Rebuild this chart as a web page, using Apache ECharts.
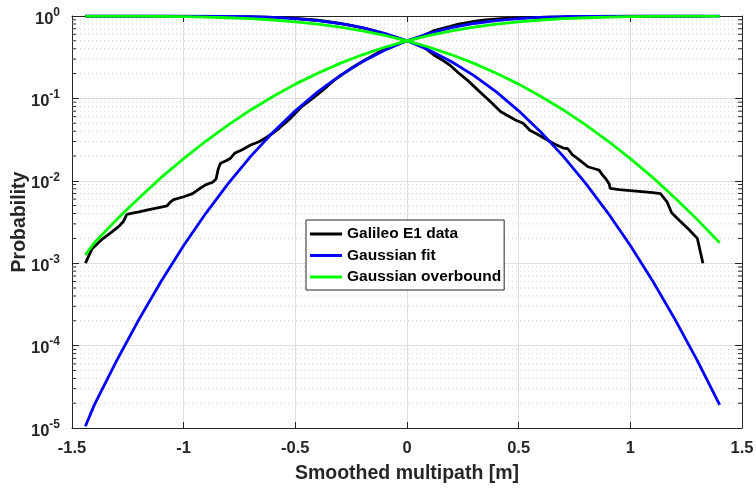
<!DOCTYPE html>
<html>
<head>
<meta charset="utf-8">
<script src="https://cdn.jsdelivr.net/npm/echarts@6/dist/echarts.min.js"></script>
<style>
  html, body { margin: 0; padding: 0; background: #fff; }
  #chart { width: 756px; height: 489px; }
</style>
</head>
<body>
<div id="chart"></div>
<script>
// x grid for the two Gaussian curves
var xFit = [-1.44, -1.4, -1.3, -1.2, -1.1, -1.0, -0.9, -0.8, -0.7, -0.6, -0.5, -0.4, -0.3, -0.2, -0.1, 0,
            0.1, 0.2, 0.3, 0.4, 0.5, 0.6, 0.7, 0.8, 0.9, 1.0, 1.1, 1.2, 1.3, 1.4];

// Gaussian fit (blue), rising and falling branch
var fitLow = [1.05e-5, 1.91e-5, 6.57e-5, 2.08e-4, 6.08e-4, 1.64e-3, 4.06e-3, 9.31e-3, 0.0198, 0.0388,
              0.0707, 0.1198, 0.1888, 0.2782, 0.3843, 0.5,
              0.6157, 0.7218, 0.8112, 0.8802, 0.9293, 0.9612, 0.9802, 0.9907, 0.9959, 0.9984, 0.9994, 0.9998, 0.9999, 1.0];
var fitHigh = [1.0, 1.0, 0.9999, 0.9998, 0.9994, 0.9984, 0.9959, 0.9907, 0.9802, 0.9612,
               0.9293, 0.8802, 0.8112, 0.7218, 0.6157, 0.5,
               0.3843, 0.2782, 0.1888, 0.1198, 0.0707, 0.0388, 0.0198, 9.31e-3, 4.06e-3, 1.64e-3, 6.08e-4, 2.08e-4, 6.57e-5, 1.91e-5];

// Gaussian overbound (green)
var ovbLow = [1.26e-3, 1.77e-3, 3.38e-3, 6.2e-3, 0.011, 0.0186, 0.0304, 0.0478, 0.0724, 0.1056,
              0.149, 0.2024, 0.266, 0.338, 0.4175, 0.5,
              0.5825, 0.662, 0.734, 0.7976, 0.851, 0.8944, 0.9276, 0.9522, 0.9696, 0.9814, 0.989, 0.9938, 0.9966, 0.9982];
var ovbHigh = [0.9987, 0.9982, 0.9966, 0.9938, 0.989, 0.9814, 0.9696, 0.9522, 0.9276, 0.8944,
               0.851, 0.7976, 0.734, 0.662, 0.5825, 0.5,
               0.4175, 0.338, 0.266, 0.2024, 0.149, 0.1056, 0.0724, 0.0478, 0.0304, 0.0186, 0.011, 6.2e-3, 3.38e-3, 1.77e-3];

// Galileo E1 data (black), rising branch
var dataLowX = [-1.44, -1.41, -1.37, -1.33, -1.29, -1.27, -1.255, -1.24, -1.2, -1.15, -1.1, -1.075, -1.06, -1.045,
                -1.0, -0.96, -0.93, -0.9, -0.87, -0.855, -0.845, -0.835, -0.81, -0.79, -0.77, -0.74, -0.7, -0.66,
                -0.63, -0.6, -0.57, -0.55, -0.52, -0.5, -0.47, -0.44, -0.4, -0.37, -0.33, -0.3, -0.25, -0.2,
                -0.15, -0.1, -0.05, 0,
                0.03, 0.06, 0.09, 0.12, 0.16, 0.19, 0.23, 0.27, 0.3, 0.34, 0.38, 0.42, 0.46, 0.49, 0.52, 0.55,
                0.59, 0.63, 0.7, 0.78, 0.86, 0.91, 1.0, 1.135, 1.185, 1.3, 1.325];
var dataLowY = [1.0e-3, 1.5e-3, 1.9e-3, 2.3e-3, 2.8e-3, 3.2e-3, 3.9e-3, 4.0e-3, 4.2e-3, 4.5e-3, 4.8e-3, 4.95e-3, 5.5e-3, 5.9e-3,
                6.4e-3, 7.0e-3, 8.0e-3, 9.0e-3, 9.6e-3, 0.0105, 0.014, 0.0163, 0.0175, 0.0188, 0.0218, 0.0237, 0.0272, 0.03,
                0.0335, 0.038, 0.044, 0.049, 0.058, 0.066, 0.08, 0.092, 0.112, 0.13, 0.163, 0.187, 0.232, 0.28,
                0.335, 0.4, 0.45, 0.5,
                0.53, 0.555, 0.61, 0.664, 0.71, 0.744, 0.795, 0.833, 0.86, 0.889, 0.912, 0.931, 0.94, 0.946, 0.95, 0.959,
                0.964, 0.969, 0.975, 0.983, 0.9865, 0.992, 0.9924, 0.993, 0.996, 0.998, 0.999];

// Galileo E1 data (black), falling branch
var dataHighX = [-1.44, -1.255, -1.06, -0.9, -0.835, -0.77, -0.7, -0.63, -0.57, -0.52, -0.47, -0.4, -0.33, -0.25,
                 -0.2, -0.15, -0.1, -0.05, 0,
                 0.03, 0.06, 0.09, 0.12, 0.16, 0.19, 0.23, 0.27, 0.3, 0.34, 0.38, 0.42, 0.46, 0.49, 0.52, 0.55,
                 0.59, 0.63, 0.66, 0.7, 0.72, 0.74, 0.76, 0.78, 0.81, 0.84, 0.86, 0.875, 0.89, 0.905, 0.91, 0.95,
                 1.0, 1.05, 1.1, 1.135, 1.15, 1.165, 1.185, 1.22, 1.26, 1.3, 1.325];
var dataHighY = [0.999, 0.996, 0.9945, 0.991, 0.984, 0.978, 0.973, 0.9665, 0.956, 0.942, 0.92, 0.888, 0.837, 0.768,
                 0.72, 0.665, 0.6, 0.55, 0.5,
                 0.47, 0.445, 0.39, 0.336, 0.29, 0.256, 0.205, 0.167, 0.14, 0.111, 0.088, 0.069, 0.06, 0.054, 0.05, 0.041,
                 0.036, 0.031, 0.028, 0.025, 0.0245, 0.0208, 0.019, 0.0172, 0.0148, 0.014, 0.0135, 0.0118, 0.0106, 0.0092, 0.0081, 0.0078,
                 0.0076, 0.0074, 0.0072, 0.007, 0.0062, 0.0055, 0.0041, 0.0033, 0.0026, 0.002, 0.001];

var legendNames = ['Galileo E1 data', 'Gaussian fit', 'Gaussian overbound'];

function pairs(xs, ys) {
  var out = [];
  for (var i = 0; i < xs.length; i++) out.push([xs[i], ys[i]]);
  return out;
}

// minor log grid values 2..9 x 10^k
var minorVals = [];
for (var k = -5; k < 0; k++) {
  for (var m = 2; m <= 9; m++) minorVals.push([0, m * Math.pow(10, k)]);
}

var axisColor = '#262626';
var font = 'Liberation Sans, Arial, sans-serif';

var chart = echarts.init(document.getElementById('chart'));

function lineSeries(name, data, color) {
  return {
    name: name, type: 'line', data: data, symbol: 'none', smooth: false,
    lineStyle: { color: color, width: 2.8 }, itemStyle: { color: color },
    silent: true
  };
}

var option = {
  animation: false,
  backgroundColor: '#fff',
  grid: { left: 72, right: 14, top: 16, bottom: 61, containLabel: false, outerBoundsMode: 'none' },
  legend: {
    data: legendNames,
    orient: 'vertical',
    left: 306, top: 220,
    padding: [6, 3, 5, 4],
    icon: 'rect',
    itemGap: 5.5, itemWidth: 32, itemHeight: 3,
    backgroundColor: '#fff',
    borderColor: axisColor, borderWidth: 1,
    textStyle: { fontFamily: font, fontWeight: 'bold', fontSize: 15.5, lineHeight: 15.5, color: '#000', padding: [0, 0, 0, 0] }
  },
  xAxis: [{
    type: 'value', min: -1.5, max: 1.5, interval: 0.5,
    name: 'Smoothed multipath [m]', nameLocation: 'middle', nameGap: 36, nameMoveOverlap: false,
    nameTextStyle: { fontFamily: font, fontWeight: 'bold', fontSize: 19.5, color: axisColor },
    axisLine: { show: true, onZero: false, lineStyle: { color: axisColor, width: 1 } },
    axisTick: { show: true, inside: true, length: 6, lineStyle: { color: axisColor } },
    axisLabel: { fontFamily: font, fontWeight: 'bold', fontSize: 16.5, color: axisColor, margin: 12 },
    splitLine: { show: true, lineStyle: { color: '#dedede', width: 1 } }
  }, {
    type: 'value', min: -1.5, max: 1.5, interval: 0.5, position: 'top',
    axisLine: { show: true, onZero: false, lineStyle: { color: axisColor, width: 1 } },
    axisTick: { show: true, inside: true, length: 6, lineStyle: { color: axisColor } },
    axisLabel: { show: false }, splitLine: { show: false }
  }],
  yAxis: [{
    type: 'log', logBase: 10, min: 1e-5, max: 1,
    name: 'Probability', nameLocation: 'middle', nameGap: 42, nameMoveOverlap: false,
    nameTextStyle: { fontFamily: font, fontWeight: 'bold', fontSize: 19.5, color: axisColor },
    axisLine: { show: true, onZero: false, lineStyle: { color: axisColor, width: 1 } },
    axisTick: { show: true, inside: true, length: 7, lineStyle: { color: axisColor } },
    axisLabel: {
      margin: 12,
      formatter: function (v) {
        var e = Math.round(Math.log(v) / Math.LN10);
        return '{b|10}{s|' + e + '}';
      },
      rich: {
        b: { fontFamily: font, fontWeight: 'bold', fontSize: 16.5, color: axisColor, padding: [6, 0, 0, 0] },
        s: { fontFamily: font, fontWeight: 'bold', fontSize: 12, color: axisColor, padding: [0, 0, 7, 0] }
      }
    },
    splitLine: { show: true, lineStyle: { color: '#dedede', width: 1 } }
  }, {
    type: 'log', logBase: 10, min: 1e-5, max: 1, position: 'right',
    axisLine: { show: true, onZero: false, lineStyle: { color: axisColor, width: 1 } },
    axisTick: { show: true, inside: true, length: 7, lineStyle: { color: axisColor } },
    axisLabel: { show: false }, splitLine: { show: false }
  }],
  series: [
    {
      // minor log grid + minor ticks on both y axes
      type: 'custom', silent: true, z: 1,
      data: minorVals,
      encode: { x: 0, y: 1 },
      renderItem: function (params, api) {
        var v = api.value(1);
        var p0 = api.coord([-1.5, v]);
        var p1 = api.coord([1.5, v]);
        return {
          type: 'group',
          children: [
            { type: 'line', shape: { x1: p0[0], y1: p0[1], x2: p1[0], y2: p1[1] },
              style: { stroke: '#cccccc', lineWidth: 1, lineDash: [1, 3] } },
            { type: 'line', shape: { x1: p0[0], y1: p0[1], x2: p0[0] + 4, y2: p0[1] },
              style: { stroke: axisColor, lineWidth: 1 } },
            { type: 'line', shape: { x1: p1[0], y1: p1[1], x2: p1[0] - 4, y2: p1[1] },
              style: { stroke: axisColor, lineWidth: 1 } }
          ]
        };
      }
    },
    lineSeries(legendNames[0], pairs(dataLowX, dataLowY), '#000000'),
    lineSeries(legendNames[0], pairs(dataHighX, dataHighY), '#000000'),
    lineSeries(legendNames[1], pairs(xFit, fitLow), '#0000ff'),
    lineSeries(legendNames[1], pairs(xFit, fitHigh), '#0000ff'),
    lineSeries(legendNames[2], pairs(xFit, ovbLow), '#00ff00'),
    lineSeries(legendNames[2], pairs(xFit, ovbHigh), '#00ff00')
  ]
};

chart.setOption(option);
</script>
</body>
</html>
